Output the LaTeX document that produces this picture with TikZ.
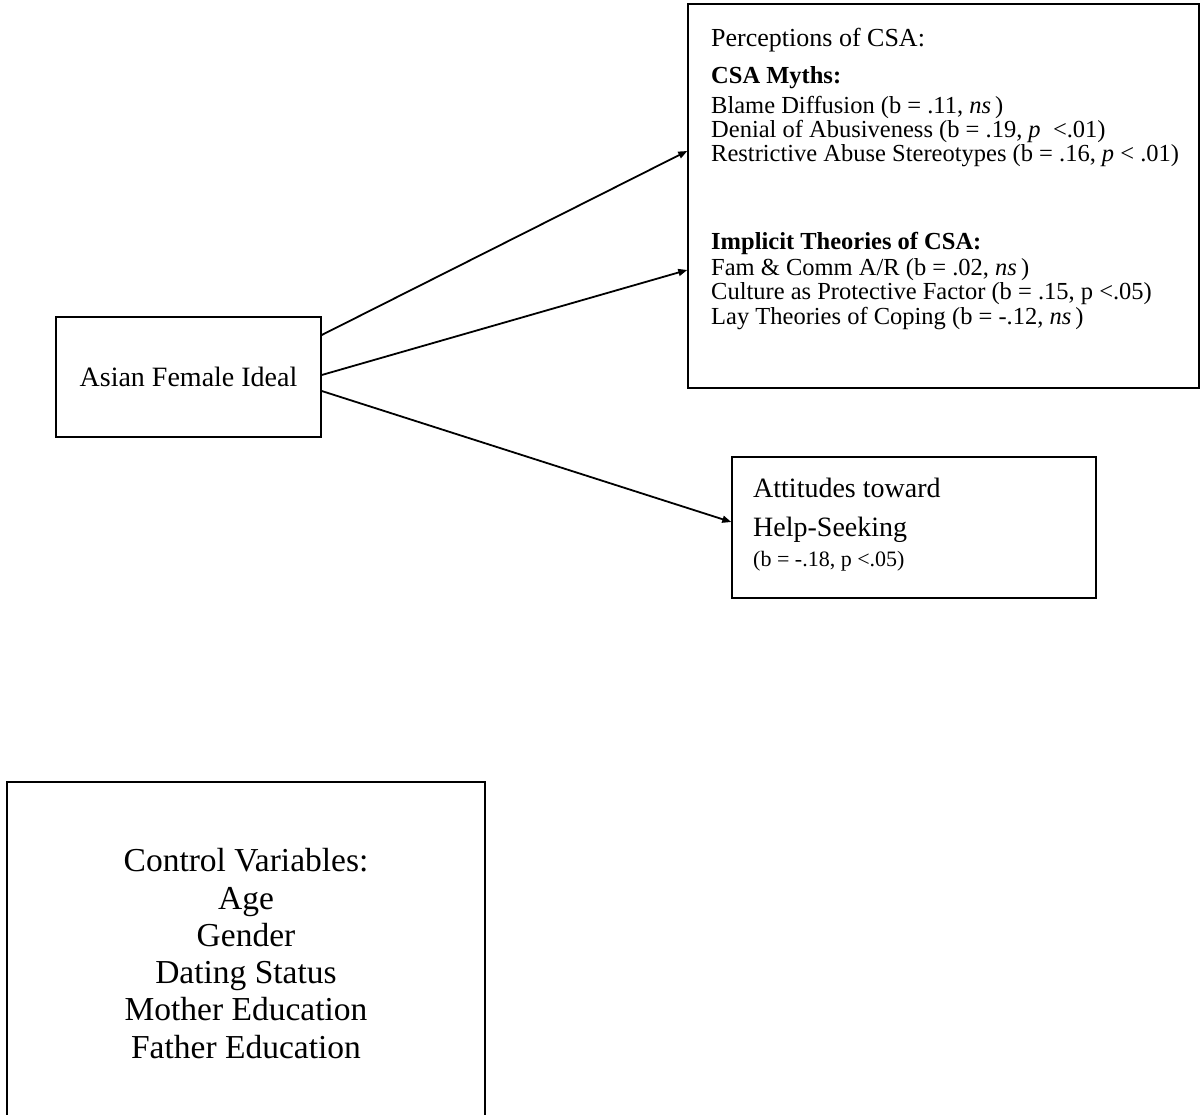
\documentclass[tikz,border=0pt]{standalone}
\usepackage{fontspec}
\usetikzlibrary{arrows.meta}
\newfontfamily\tnr{Liberation Serif}
\tikzset{
  box/.style={draw, line width=1.5pt, inner sep=0pt},
  arr/.style={line width=1.8pt, -{Triangle[length=9pt,width=7pt]}},
  big/.style={anchor=base west, inner sep=0pt, font=\tnr\fontsize{26}{31}\selectfont},
  item/.style={anchor=base west, inner sep=0pt, font=\tnr\fontsize{24.5}{29}\selectfont},
  small/.style={anchor=base west, inner sep=0pt, font=\tnr\fontsize{22}{26}\selectfont}
}
\begin{document}
\begin{tikzpicture}[x=1pt,y=-1pt]
            \clip (0, 0) rectangle (1202, 1115);
            \node[box, minimum width=265pt, minimum height=120pt,
                  font=\tnr\fontsize{28}{33}\selectfont] (ideal) at (188.5, 377) {Asian Female Ideal};
            \node[box, minimum width=511pt, minimum height=384pt] (percep) at (943.5, 196) {};
            \node[box, minimum width=364pt, minimum height=141pt] (help) at (914, 527.5) {};
            \node[box, minimum width=478pt, minimum height=343pt, align=center,
                  font=\tnr\fontsize{33.5}{37.3}\selectfont] (ctrl) at (246, 953.5)
                  {Control Variables:\\Age\\Gender\\Dating Status\\Mother Education\\Father Education};
            \node[big] (ptitle) at (711, 47) {Perceptions of CSA:};
            \node[item] (myths) at (711, 84) {\bfseries CSA Myths:};
            \node[item] (blame) at (711, 114) {Blame Diffusion (b = .11, \textit{ns}\,)};
            \node[item] (denial) at (711, 138) {Denial of Abusiveness (b = .19, \textit{p} \ <.01)};
            \node[item] (restr) at (711, 162) {Restrictive Abuse Stereotypes (b = .16, \textit{p} < .01)};
            \node[item] (implicit) at (711, 250) {\bfseries Implicit Theories of CSA:};
            \node[item] (fam) at (711, 276) {Fam \& Comm A/R (b = .02, \textit{ns}\,)};
            \node[item] (culture) at (711, 300) {Culture as Protective Factor (b = .15, p <.05)};
            \node[item] (lay) at (711, 324) {Lay Theories of Coping (b = -.12, \textit{ns}\,)};
            \node[big, font=\tnr\fontsize{28}{33}\selectfont] (att) at (753, 497) {Attitudes toward};
            \node[big, font=\tnr\fontsize{28}{33}\selectfont] (seek) at (753, 536) {Help-Seeking};
            \node[small] (hstat) at (753, 566) {(b = -.18, p <.05)};
            \draw[arr] ([yshift=42pt]ideal.east) -- ([yshift=45pt]percep.west);
            \draw[arr] ([yshift=2pt]ideal.east) -- ([yshift=-74pt]percep.west);
            \draw[arr] ([yshift=-14pt]ideal.east) -- ([yshift=5.5pt]help.west);
        \end{tikzpicture}
\end{document}
